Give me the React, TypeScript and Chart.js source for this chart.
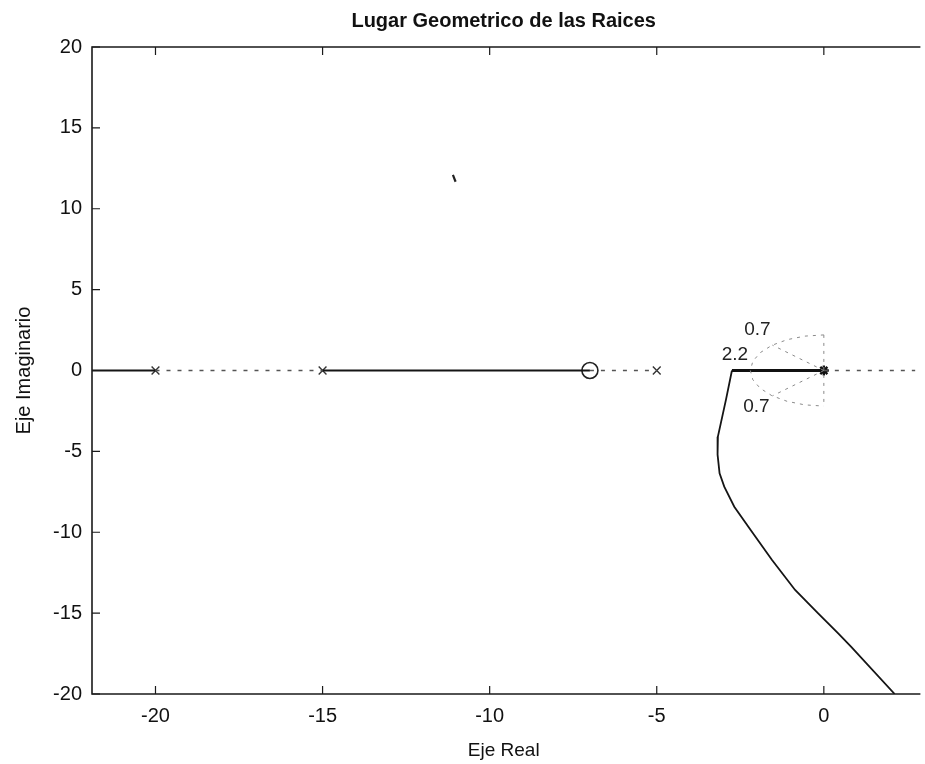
import React, { useEffect, useRef } from 'react';
import { Chart, registerables } from 'chart.js';

Chart.register(...registerables);

// ---------- data ----------
const titleText = 'Lugar Geometrico de las Raices';
const xAxisTitle = 'Eje Real';
const yAxisTitle = 'Eje Imaginario';

const xMin = -21.9;
const xMax = 2.74;
const yMin = -20;
const yMax = 20;
const xTickValues = [-20, -15, -10, -5, 0];
const yTickValues = [-20, -15, -10, -5, 0, 5, 10, 15, 20];

// open-loop poles (x marks), zero (circle), pole at origin (asterisk)
const poleX = [-20, -15, -5];
const zeroX = [-7];
const originPoleX = [0];

// real-axis locus pieces
const solidRealStart = [-21.9, -15];
const solidRealEnd = [-20, -7];
const thickRealStart = [-2.75];
const thickRealEnd = [0];
const dashedRealStart = [-20, -7, 0];
const dashedRealEnd = [-15, -5, 2.74];

// complex branch leaving the real axis downward
const branchX = [-2.75, -2.93, -3.17, -3.18, -3.12, -2.98, -2.68, -2.19, -1.55, -0.86, -0.17, 0.43, 0.82, 2.12];
const branchY = [0, -1.82, -4.09, -5.2, -6.36, -7.18, -8.42, -9.86, -11.72, -13.57, -15.01, -16.25, -17.08, -20];

// s-grid: natural frequency arc (wn = 2.2) and damping lines (zeta = 0.7)
const wnArcX = [0, -0.57, -1.1, -1.556, -1.905, -2.125, -2.2, -2.125, -1.905, -1.556, -1.1, -0.57, 0];
const wnArcY = [2.2, 2.125, 1.905, 1.556, 1.1, 0.569, 0, -0.569, -1.1, -1.556, -1.905, -2.125, -2.2];
const zetaUpperX = [0, -1.54];
const zetaUpperY = [0, 1.57];
const zetaLowerX = [0, -1.54];
const zetaLowerY = [0, -1.57];
const imagLineX = [0, 0];
const imagLineY = [2.2, -2.2];

const gridLabelText = ['0.7', '2.2', '0.7'];
const gridLabelX = [-1.99, -2.66, -2.02];
const gridLabelY = [2.53, 0.96, -2.25];

// small stray stroke in the upper part of the plot
const speckX = [-11.1, -11.02];
const speckY = [12.1, 11.67];

// ---------- helpers ----------
const FONT = '"Liberation Sans", Arial, Helvetica, sans-serif';
const zip = (xs: number[], ys: number[]) => xs.map((x, i) => ({ x, y: ys[i] }));

const lineDs = (data: { x: number; y: number }[], color: string, width: number, dash: number[] = []) => ({
  data,
  showLine: true,
  borderColor: color,
  borderWidth: width,
  borderDash: dash,
  pointRadius: 0,
  fill: false,
  tension: 0,
});

const framePlugin = {
  id: 'matlabFrame',
  afterDraw(chart: any) {
    const { ctx, chartArea: a, scales } = chart;
    const xs = scales.x;
    const ys = scales.y;
    ctx.save();
    ctx.strokeStyle = '#1a1a1a';
    ctx.lineWidth = 1.6;
    ctx.beginPath();
    ctx.moveTo(a.right + 5, a.top);
    ctx.lineTo(a.left, a.top);
    ctx.lineTo(a.left, a.bottom);
    ctx.lineTo(a.right + 5, a.bottom);
    ctx.stroke();
    ctx.lineWidth = 1.2;
    ctx.beginPath();
    for (const v of xTickValues) {
      const px = xs.getPixelForValue(v);
      ctx.moveTo(px, a.bottom);
      ctx.lineTo(px, a.bottom - 8);
      ctx.moveTo(px, a.top);
      ctx.lineTo(px, a.top + 8);
    }
    for (const v of yTickValues) {
      const py = ys.getPixelForValue(v);
      ctx.moveTo(a.left, py);
      ctx.lineTo(a.left + 8, py);
    }
    ctx.stroke();

    ctx.fillStyle = '#222';
    ctx.font = `19px ${FONT}`;
    ctx.textAlign = 'center';
    ctx.textBaseline = 'middle';
    gridLabelText.forEach((t, i) => {
      ctx.fillText(t, xs.getPixelForValue(gridLabelX[i]), ys.getPixelForValue(gridLabelY[i]));
    });
    ctx.restore();
  },
};

export default function App() {
  const ref = useRef<HTMLCanvasElement | null>(null);

  useEffect(() => {
    if (!ref.current) return;
    const datasets: any[] = [];

    // s-grid (light dashed)
    datasets.push(lineDs(zip(wnArcX, wnArcY), '#8a8a8a', 1, [3, 5]));
    datasets.push(lineDs(zip(zetaUpperX, zetaUpperY), '#8a8a8a', 1, [3, 5]));
    datasets.push(lineDs(zip(zetaLowerX, zetaLowerY), '#8a8a8a', 1, [3, 5]));
    datasets.push(lineDs(zip(imagLineX, imagLineY), '#8a8a8a', 1, [3, 5]));

    // dashed real-axis pieces
    dashedRealStart.forEach((s, i) => {
      datasets.push(lineDs([{ x: s, y: 0 }, { x: dashedRealEnd[i], y: 0 }], '#555', 1.4, [4, 7]));
    });
    // solid real-axis pieces
    solidRealStart.forEach((s, i) => {
      datasets.push(lineDs([{ x: s, y: 0 }, { x: solidRealEnd[i], y: 0 }], '#151515', 1.8));
    });
    thickRealStart.forEach((s, i) => {
      datasets.push(lineDs([{ x: s, y: 0 }, { x: thickRealEnd[i], y: 0 }], '#111', 3));
    });
    // complex branch
    datasets.push(lineDs(zip(branchX, branchY), '#151515', 1.8));
    // speck
    datasets.push(lineDs(zip(speckX, speckY), '#222', 2.2));

    // markers
    datasets.push({
      data: poleX.map((x) => ({ x, y: 0 })),
      showLine: false,
      pointStyle: 'crossRot',
      pointRadius: 5.5,
      borderColor: '#333',
      borderWidth: 1.4,
      backgroundColor: 'transparent',
    });
    datasets.push({
      data: zeroX.map((x) => ({ x, y: 0 })),
      showLine: false,
      pointStyle: 'circle',
      pointRadius: 8,
      borderColor: '#222',
      borderWidth: 1.6,
      backgroundColor: 'rgba(255,255,255,0)',
    });
    datasets.push({
      data: originPoleX.map((x) => ({ x, y: 0 })),
      showLine: false,
      pointStyle: 'star',
      pointRadius: 5,
      borderColor: '#111',
      borderWidth: 2.4,
      backgroundColor: '#111',
    });

    const chart = new Chart(ref.current, {
      type: 'scatter',
      data: { datasets },
      plugins: [framePlugin],
      options: {
        animation: false,
        responsive: false,
        maintainAspectRatio: false,
        layout: { padding: { left: 0, right: 0, top: 0, bottom: 0 } },
        plugins: {
          legend: { display: false },
          tooltip: { enabled: false },
          title: {
            display: true,
            text: titleText,
            fullSize: false,
            color: '#111',
            font: { family: FONT, size: 20, weight: 'bold' },
            padding: { top: 9, bottom: 14 },
          },
        },
        scales: {
          x: {
            type: 'linear',
            min: xMin,
            max: xMax,
            grid: { display: false, drawTicks: false },
            border: { display: false },
            afterBuildTicks: (s: any) => {
              s.ticks = xTickValues.map((v) => ({ value: v }));
            },
            afterFit: (s: any) => {
              s.height = 70;
            },
            ticks: {
              autoSkip: false,
              maxRotation: 0,
              padding: 10,
              color: '#111',
              font: { family: FONT, size: 20 },
            },
            title: {
              display: true,
              text: xAxisTitle,
              color: '#111',
              font: { family: FONT, size: 19 },
              padding: { top: 0, bottom: 2 },
            },
          },
          y: {
            type: 'linear',
            min: yMin,
            max: yMax,
            grid: { display: false, drawTicks: false },
            border: { display: false },
            afterBuildTicks: (s: any) => {
              s.ticks = yTickValues.map((v) => ({ value: v }));
            },
            afterFit: (s: any) => {
              s.width = 92;
            },
            ticks: {
              padding: 10,
              color: '#111',
              font: { family: FONT, size: 20 },
            },
            title: {
              display: true,
              text: yAxisTitle,
              color: '#111',
              font: { family: FONT, size: 20 },
              padding: { top: 12, bottom: 0 },
            },
          },
        },
      } as any,
    });
    return () => chart.destroy();
  }, []);

  return (
    <div style={{ position: 'fixed', left: 0, top: 0, width: 925, height: 764, overflow: 'hidden', background: '#fff' }}>
      <canvas ref={ref} width={925} height={764} style={{ width: 925, height: 764, display: 'block' }} />
    </div>
  );
}
